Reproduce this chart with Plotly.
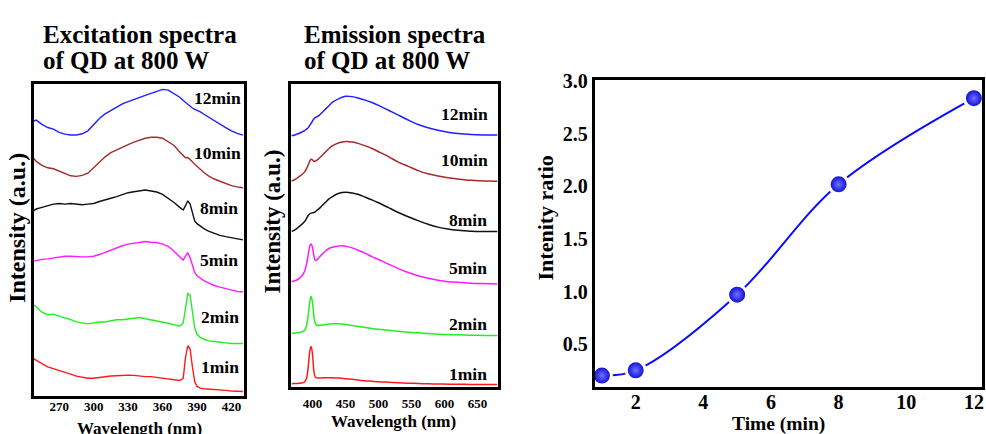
import plotly.graph_objects as go

# ---------------- data ----------------
exc_wl = [248, 250, 255, 260, 265, 270, 275, 280, 285, 290, 295, 300, 305, 310, 315, 320,
          325, 330, 335, 340, 345, 350, 355, 360, 365, 370, 375, 378, 380, 382, 384, 386,
          388, 390, 393, 396, 400, 405, 410, 415, 420, 425, 430]

exc_12 = [281.3, 282.3, 278, 274.7, 273, 269.7, 268, 267, 267, 268.3, 271.3, 278, 284, 288.7,
          292, 295.7, 299, 301.3, 303.7, 305.7, 307.7, 309.7, 312, 313.7, 313, 309.7, 305.7,
          302.3, 300.3, 298.3, 296.3, 294.7, 293.3, 292.3, 290.7, 288.3, 285.3, 281.7, 278.3,
          274.7, 271.3, 268.7, 267]
exc_10 = [243, 240, 236, 233.5, 232.5, 230, 227, 225.3, 224.7, 225.7, 228, 233.7, 239.7, 244.7,
          249, 252, 254.7, 257.3, 259.7, 262, 263.7, 264.7, 264.7, 263.7, 260.3, 256.3, 249.7,
          245.7, 243.7, 244, 242.3, 239.7, 237, 234.7, 231.3, 228.7, 225.3, 222, 219.7, 217.3,
          215.3, 214, 213]
exc_8 = [189.7, 191.3, 193, 194.7, 196.3, 197, 196.3, 197, 196.3, 195.7, 196.3, 197, 199, 200.3,
         202.3, 204, 206.3, 208, 209, 209.7, 210.7, 209.7, 208.7, 206.3, 202.3, 198, 193, 190.3,
         194.7, 199.7, 196.3, 186.3, 179, 176.3, 173.7, 171.3, 168.7, 166.3, 164.3, 163, 161.7,
         160.3, 159.7]
exc_5 = [138, 138.7, 139.7, 140.3, 141.3, 142.3, 143, 143, 142.3, 142.3, 142.3, 143, 144.7, 147,
         149, 151.3, 153.7, 155.3, 156.3, 157, 158, 157.3, 157, 155.3, 153, 148, 142.3, 139,
         143, 146.3, 141.3, 133, 126.3, 123, 120.3, 118, 115.7, 113, 111.3, 109.7, 108, 107,
         106.3]
exc_2 = [93, 91.3, 85.7, 83, 83.7, 81.3, 79.7, 78, 75.7, 74.7, 73.7, 74.7, 75.7, 75.7, 77, 78,
         78, 79, 79.7, 80.3, 79, 78, 76.3, 75.3, 74.3, 73, 71.3, 74.7, 91.3, 104.7, 103, 86.3,
         69.7, 63, 59.7, 58, 56.3, 55.7, 54.7, 54.3, 53.7, 53.7, 53.7]
exc_1 = [38, 36.3, 33, 29.7, 28, 26.3, 24.7, 22.3, 20.3, 19, 18, 18, 19, 19.7, 20.3, 20.7, 21.3,
         21.3, 21, 20.3, 19.7, 19.7, 19, 18, 17.3, 16.3, 15.7, 18, 39.7, 51.3, 48, 29.7, 14.7,
         9.7, 8, 7.3, 7, 7, 6.3, 5.7, 5.0, 4.8, 4.5]

em_wl = [368, 372, 376, 380, 384, 388, 391, 394, 396, 398, 400, 402, 404, 407, 410, 415, 420,
         425, 430, 440, 450, 460, 470, 480, 490, 500, 515, 530, 545, 560, 575, 590, 605, 620,
         640, 660, 680]

em_12 = [257.3, 257.7, 258.7, 259.7, 261, 262.3, 264, 265.7, 268, 270, 272.3, 274.3, 275.7,
         276.7, 278, 281.3, 284.7, 288, 291.3, 295.3, 297.7, 297.3, 295.7, 293.7, 291.3, 288.3,
         283.3, 278.3, 273.3, 268.7, 265.3, 262.7, 260.7, 259.3, 258.3, 258, 258]
em_10 = [210.7, 211.7, 213.3, 215.3, 217.3, 220, 223.3, 228, 231.3, 233, 232.3, 231, 231, 232.3,
         234, 237.3, 240.7, 244, 246.7, 250, 251.3, 250.7, 249, 246.7, 244, 240.7, 235.7, 230,
         225.7, 221.3, 218, 215.7, 214, 212.7, 211.3, 210.7, 210.3]
em_8 = [159, 160, 161.7, 164, 166.3, 169, 172.3, 175.7, 177, 177.7, 178, 178.3, 179, 180.7,
        182.3, 185.7, 189, 192.3, 194.7, 198, 199, 198.3, 196.7, 194, 191.3, 188.3, 183.3, 178.3,
        174, 170, 166.3, 163.3, 161.3, 160, 159, 158.7, 158.7]
em_5 = [107.3, 108, 109, 110.7, 113.3, 118, 125.7, 137.3, 144, 146, 142.3, 134, 129, 130, 132.3,
        135.7, 139, 141.3, 142.7, 144, 143.7, 142, 139.3, 136.3, 133, 130, 125.3, 120.7, 116.7,
        113.3, 110.7, 108.7, 107.3, 106.7, 105.7, 105.3, 105]
em_2 = [54, 54.3, 54.7, 55, 55.7, 57.3, 62.3, 75.7, 87.3, 92.3, 85.7, 72.3, 64.7, 62.3, 62.3,
        62.7, 63.3, 63.7, 64, 64, 63.3, 62.3, 61.3, 60.3, 59.3, 58.3, 57.3, 56.3, 55.3, 54.7, 54,
        53.3, 53, 52.7, 52.3, 52, 52]
em_1 = [2.5, 2.7, 2.7, 3, 3.3, 4.3, 8.3, 23.3, 36.7, 40.7, 32.3, 15.7, 9.5, 8.3, 8.3, 8.5, 8.7,
        8.7, 8.7, 8.3, 7.7, 7, 6.2, 5.5, 5, 4.5, 4, 3.5, 3, 2.7, 2.4, 2.2, 2, 1.9, 1.8, 1.8, 1.8]

series_names = ["12min", "10min", "8min", "5min", "2min", "1min"]
series_colors = ["#1f1fff", "#a52a2a", "#111111", "#ff1aff", "#22ee22", "#ff1a1a"]
exc_series = [exc_12, exc_10, exc_8, exc_5, exc_2, exc_1]
em_series = [em_12, em_10, em_8, em_5, em_2, em_1]

exc_label_x = [408, 408, 409, 409.5, 410, 410]
exc_label_y = [304.5, 248.3, 192, 139, 81, 30]
em_label_x = [631, 631, 636, 636, 636, 636]
em_label_y = [279.3, 231.7, 171, 121, 64.3, 12]

time_min = [1, 2, 5, 8, 12]
ratio = [0.2, 0.25, 0.97, 2.02, 2.84]

exc_ticks = [270, 300, 330, 360, 390, 420]
em_ticks = [400, 450, 500, 550, 600, 650]
time_ticks = [2, 4, 6, 8, 10, 12]
ratio_ticks = [0.5, 1.0, 1.5, 2.0, 2.5, 3.0]

# ---------------- figure ----------------
W, H = 986, 434
SERIF = "Liberation Serif"


def fx(px):
    return px / W


def fy(py):
    return 1 - py / H


fig = go.Figure()

for name, col, ys in zip(series_names, series_colors, exc_series):
    fig.add_trace(go.Scatter(x=exc_wl, y=ys, mode="lines", name=name,
                             line=dict(color=col, width=1.4), xaxis="x", yaxis="y",
                             showlegend=False))
for name, col, ys in zip(series_names, series_colors, em_series):
    fig.add_trace(go.Scatter(x=em_wl, y=ys, mode="lines", name=name,
                             line=dict(color=col, width=1.5, shape="spline", smoothing=0.8),
                             xaxis="x2", yaxis="y2", showlegend=False))

fig.add_trace(go.Scatter(x=time_min, y=ratio, mode="lines", line=dict(color="#0a0aff", width=2,
                                                                       shape="spline"),
                         xaxis="x3", yaxis="y3", showlegend=False))
fig.add_trace(go.Scatter(x=time_min, y=ratio, mode="markers",
                         marker=dict(size=19, color="#0000d0",
                                     gradient=dict(type="radial", color="#7070ff"),
                                     line=dict(color="white", width=3)),
                         xaxis="x3", yaxis="y3", showlegend=False))

tick_small = dict(family=SERIF, size=13, color="black", weight="bold")
tick_big = dict(family=SERIF, size=20, color="black", weight="bold")
frame = dict(showline=True, mirror=True, linecolor="black", showgrid=False, zeroline=False)

fig.update_layout(
    width=W, height=H, margin=dict(l=0, r=0, t=0, b=0),
    paper_bgcolor="white", plot_bgcolor="white",
    xaxis=dict(domain=[fx(34), fx(244)], range=[248, 430.5], tickvals=exc_ticks,
               tickfont=tick_small, ticks="", ticklen=0, linewidth=2.5, anchor="y", **frame),
    yaxis=dict(domain=[fy(395), fy(76)], range=[0, 319], showticklabels=False, ticks="",
               linewidth=2.5, anchor="x", **frame),
    xaxis2=dict(domain=[fx(292), fx(499)], range=[368, 681], tickvals=em_ticks,
                tickfont=tick_small, ticks="", ticklen=0, linewidth=2.5, anchor="y2",
                ticklabelstandoff=3, **frame),
    yaxis2=dict(domain=[fy(386), fy(76)], range=[-1, 310], showticklabels=False, ticks="",
                linewidth=2.5, anchor="x2", **frame),
    xaxis3=dict(domain=[fx(596), fx(984)], range=[0.79, 12.24], tickvals=time_ticks,
                tickfont=tick_big, ticks="", ticklen=0, linewidth=3, anchor="y3", **frame),
    yaxis3=dict(domain=[fy(386), fy(72)], range=[0.09, 3.01], tickvals=ratio_ticks,
                tickformat=".1f", tickfont=tick_big, ticks="", ticklen=0, linewidth=3,
                anchor="x3", **frame),
)

# pull the bottom tick labels slightly closer to the frame, if supported
for axname, shift in (("xaxis", -3), ("xaxis3", -5)):
    try:
        fig.layout[axname].ticklabelstandoff = shift
    except Exception:
        pass

ann = []
for name, lx, ly in zip(series_names, exc_label_x, exc_label_y):
    ann.append(dict(x=lx, y=ly, xref="x", yref="y", text=name, showarrow=False,
                    font=dict(family=SERIF, size=17.5, color="black", weight="bold")))
for name, lx, ly in zip(series_names, em_label_x, em_label_y):
    ann.append(dict(x=lx, y=ly, xref="x2", yref="y2", text=name, showarrow=False,
                    font=dict(family=SERIF, size=17.5, color="black", weight="bold")))


def txt(text, px, py, size, xanchor="center", angle=0):
    return dict(x=fx(px), y=fy(py), xref="paper", yref="paper", text=text, showarrow=False,
                xanchor=xanchor, yanchor="middle", textangle=angle,
                font=dict(family=SERIF, size=size, color="black", weight="bold"))


ann += [
    txt("Excitation spectra", 41, 25, 25, "left"),
    txt("of QD at 800 W", 41, 51.5, 25, "left"),
    txt("Emission spectra", 303, 25, 25, "left"),
    txt("of QD at 800 W", 303, 51.5, 25, "left"),
    txt("Intensity (a.u.)", 17, 223, 24, angle=-90),
    txt("Intensity (a.u.)", 273, 216, 23, angle=-90),
    txt("Intenity ratio", 547, 212.5, 22, angle=-90),
    txt("Wavelength (nm)", 140, 428, 17),
    txt("Wavelength (nm)", 394, 421.5, 17),
    txt("Time (min)", 780, 423.5, 19.5),
]
fig.update_layout(annotations=ann)

fig.write_html("out.html", config={"displayModeBar": False},
               post_script="document.body.style.margin='0px';document.documentElement.style.overflow='hidden';")
